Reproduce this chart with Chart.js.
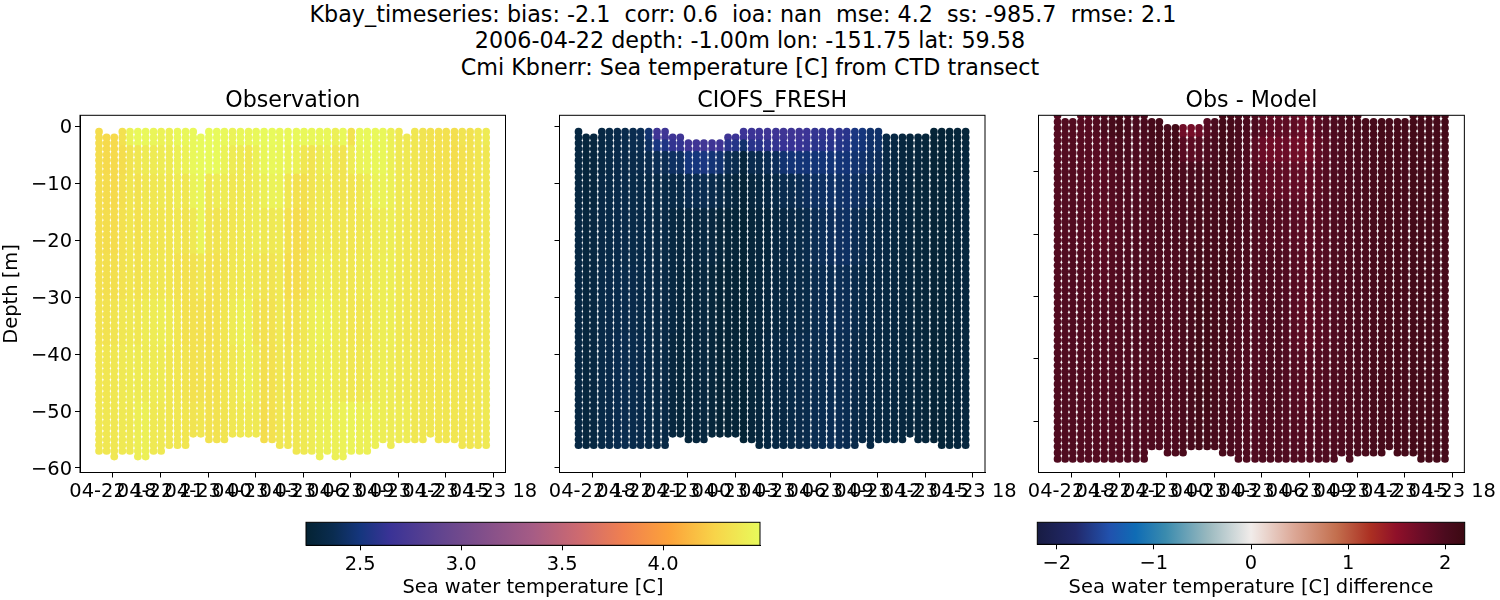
<!DOCTYPE html>
<html lang="en">
<head>
<meta charset="UTF-8" />
<title>Kbay_timeseries</title>
<script src="https://cdn.jsdelivr.net/npm/chart.js"></script>
<style>
  html, body { margin: 0; padding: 0; background: #fff; }
  body { width: 1500px; height: 600px; position: relative; overflow: hidden; font-family: 'DejaVu Sans', sans-serif; color: #000; }
  canvas { position: absolute; left: 0; top: 0; }
  #suptitle { position: absolute; left: 0; top: 0.5px; width: 1500px; text-align: center; font-size: 22.25px; line-height: 26.8px; white-space: pre; }
</style>
</head>
<body>
<div id="suptitle">Kbay_timeseries: bias: -2.1  corr: 0.6  ioa: nan  mse: 4.2  ss: -985.7  rmse: 2.1  
2006-04-22 depth: -1.00m lon: -151.75 lat: 59.58
Cmi Kbnerr: Sea temperature [C] from CTD transect</div>
<canvas id="obsChart" width="1500" height="600"></canvas>
<canvas id="modelChart" width="1500" height="600"></canvas>
<canvas id="diffChart" width="1500" height="600"></canvas>
<canvas id="tempBar" width="1500" height="600"></canvas>
<canvas id="diffBar" width="1500" height="600"></canvas>

<script>
  // profile times, hours after 04-22 18:00
  const castHours = [-0.88,-0.40,0.08,0.59,1.07,1.57,2.06,2.56,3.04,3.55,4.07,4.58,5.06,5.54,6.05,6.55,7.03,7.54,8.04,8.55,
    9.03,9.53,10.04,10.52,11.04,11.57,12.05,12.54,13.04,13.52,14.03,14.51,15.03,15.56,16.04,16.55,17.03,17.53,18.04,18.54,
    19.04,19.55,20.03,20.54,21.02,21.54,22.03,22.53,23.03,23.54];

  const xTickHours = [0,3,6,9,12,15,18,21,24];
  const xTickLabels = ['04-22 18','04-22 21','04-23 00','04-23 03','04-23 06','04-23 09','04-23 12','04-23 15','04-23 18'];
  const depthTicks = [0,-10,-20,-30,-40,-50,-60];
  const diffDepthTicks = [-10,-20,-30,-40,-50];
  const tempBarTicks = [2.5,3.0,3.5,4.0];
  const diffBarTicks = [-2,-1,0,1,2];

  // shallowest and deepest sample of each profile
  const obsTop = [-1,-2,-2,-1,-1,-1,-1,-1,-1,-1,-1,-1,-1,-2,-1,-1,-1,-1,-1,-1,-1,-1,-1,-1,-1,
    -1,-1,-1,-1,-1,-1,-1,-1,-1,-1,-1,-1,-1,-1,-2,-1,-1,-1,-1,-1,-1,-1,-1,-1,-1];
  const obsBottom = [-57,-57,-58,-57,-57,-58,-58,-57,-57,-56,-56,-56,-54,-54,-55,-55,-55,-54,-54,-54,-54,-55,-55,-56,-56,
    -57,-57,-57,-58,-57,-58,-58,-57,-57,-57,-56,-55,-56,-55,-55,-55,-55,-54,-55,-55,-55,-56,-56,-56,-56];
  const modelTop = [-1,-2,-2,-1,-1,-1,-1,-1,-1,-1,-1,-1,-2,-2,-3,-3,-3,-3,-3,-2,-2,-1,-1,-1,-1,
    -1,-1,-1,-1,-1,-1,-1,-1,-1,-1,-1,-1,-1,-1,-2,-2,-2,-2,-2,-2,-1,-1,-1,-1,-1];
  const modelBottom = [-56,-56,-56,-56,-56,-56,-56,-56,-56,-56,-56,-56,-54,-54,-55,-55,-55,-54,-54,-54,-54,-55,-55,-56,-56,
    -56,-56,-56,-56,-56,-56,-56,-56,-56,-56,-56,-55,-56,-55,-55,-55,-55,-54,-55,-55,-55,-56,-56,-56,-56];

  // each entry below holds the readings of one depth layer, one row per profile
  const obsLayers = [-3,-8,-14,-22,-30,-38,-48,-60];
  const obsTemp = [
    [4.31,4.31,4.31,4.31,4.32,4.34,4.36,4.37],[4.29,4.29,4.30,4.31,4.32,4.34,4.36,4.37],[4.29,4.29,4.29,4.30,4.32,4.35,4.37,4.37],
    [4.33,4.31,4.32,4.33,4.34,4.37,4.38,4.38],[4.44,4.35,4.36,4.36,4.36,4.38,4.39,4.38],[4.47,4.37,4.34,4.33,4.34,4.37,4.39,4.41],
    [4.47,4.39,4.37,4.36,4.36,4.40,4.39,4.42],[4.45,4.39,4.37,4.36,4.37,4.40,4.39,4.38],[4.43,4.40,4.38,4.36,4.37,4.41,4.39,4.38],
    [4.42,4.39,4.37,4.36,4.36,4.39,4.37,4.37],[4.46,4.42,4.39,4.37,4.34,4.36,4.36,4.37],[4.46,4.43,4.37,4.35,4.33,4.33,4.35,4.36],
    [4.47,4.47,4.44,4.38,4.34,4.33,4.33,4.35],[4.48,4.48,4.46,4.45,4.37,4.33,4.34,4.36],[4.48,4.48,4.37,4.35,4.33,4.32,4.33,4.34],
    [4.48,4.48,4.40,4.35,4.33,4.33,4.33,4.34],[4.47,4.44,4.40,4.37,4.35,4.36,4.36,4.35],[4.44,4.39,4.37,4.36,4.37,4.39,4.37,4.37],
    [4.46,4.39,4.38,4.38,4.38,4.42,4.40,4.38],[4.45,4.37,4.38,4.38,4.38,4.42,4.42,4.38],[4.47,4.42,4.40,4.40,4.37,4.34,4.38,4.38],
    [4.48,4.46,4.42,4.38,4.35,4.33,4.32,4.31],[4.48,4.47,4.44,4.38,4.35,4.34,4.33,4.33],[4.47,4.46,4.44,4.39,4.38,4.38,4.37,4.37],
    [4.46,4.44,4.37,4.33,4.31,4.34,4.35,4.37],[4.47,4.43,4.33,4.30,4.30,4.34,4.36,4.37],[4.47,4.37,4.32,4.30,4.32,4.37,4.38,4.38],
    [4.46,4.35,4.35,4.37,4.38,4.41,4.41,4.40],[4.46,4.39,4.38,4.38,4.40,4.43,4.41,4.42],[4.46,4.42,4.38,4.38,4.40,4.42,4.41,4.42],
    [4.42,4.37,4.37,4.37,4.38,4.40,4.40,4.42],[4.47,4.35,4.35,4.37,4.37,4.38,4.38,4.43],[4.34,4.40,4.35,4.36,4.37,4.36,4.37,4.44],
    [4.47,4.44,4.37,4.37,4.38,4.36,4.37,4.42],[4.47,4.45,4.40,4.38,4.38,4.37,4.38,4.42],[4.47,4.46,4.44,4.40,4.40,4.40,4.40,4.42],
    [4.46,4.46,4.44,4.40,4.41,4.41,4.41,4.41],[4.42,4.42,4.42,4.41,4.41,4.41,4.40,4.40],[4.38,4.38,4.38,4.38,4.38,4.38,4.38,4.40],
    [4.38,4.38,4.38,4.37,4.37,4.37,4.38,4.40],[4.37,4.36,4.36,4.36,4.36,4.36,4.37,4.37],[4.35,4.35,4.35,4.35,4.35,4.35,4.36,4.37],
    [4.34,4.34,4.35,4.35,4.35,4.36,4.36,4.37],[4.33,4.33,4.34,4.34,4.35,4.35,4.36,4.36],[4.33,4.33,4.33,4.33,4.34,4.34,4.36,4.36],
    [4.32,4.31,4.31,4.32,4.33,4.34,4.36,4.36],[4.35,4.33,4.34,4.34,4.35,4.36,4.36,4.36],[4.34,4.34,4.34,4.35,4.35,4.36,4.36,4.36],
    [4.37,4.36,4.36,4.36,4.36,4.37,4.37,4.37],[4.39,4.37,4.37,4.37,4.37,4.37,4.38,4.38]
  ];

  const modelLayers = [-2.5,-4.5,-8,-14,-24,-36,-48,-60];
  const modelTemp = [
    [2.30,2.30,2.30,2.30,2.31,2.31,2.31,2.31],[2.28,2.28,2.28,2.28,2.29,2.29,2.29,2.29],[2.29,2.29,2.29,2.29,2.30,2.30,2.30,2.30],
    [2.31,2.31,2.31,2.32,2.32,2.33,2.33,2.33],[2.33,2.33,2.33,2.33,2.33,2.34,2.34,2.34],[2.34,2.34,2.34,2.34,2.34,2.35,2.36,2.36],
    [2.35,2.35,2.34,2.34,2.34,2.35,2.36,2.36],[2.36,2.36,2.34,2.33,2.33,2.34,2.35,2.35],[2.38,2.36,2.35,2.33,2.33,2.33,2.34,2.34],
    [2.46,2.42,2.36,2.33,2.33,2.33,2.33,2.33],[2.68,2.52,2.38,2.33,2.32,2.32,2.32,2.32],[2.68,2.54,2.38,2.33,2.32,2.32,2.32,2.32],
    [2.68,2.62,2.42,2.33,2.30,2.30,2.29,2.29],[2.68,2.62,2.42,2.33,2.29,2.28,2.27,2.27],[2.72,2.68,2.50,2.36,2.29,2.27,2.27,2.27],
    [2.72,2.68,2.50,2.36,2.29,2.28,2.28,2.28],[2.72,2.70,2.52,2.37,2.30,2.29,2.29,2.29],[2.72,2.68,2.48,2.35,2.29,2.27,2.27,2.27],
    [2.72,2.68,2.46,2.33,2.27,2.25,2.25,2.25],[2.68,2.58,2.38,2.30,2.26,2.25,2.25,2.25],[2.66,2.56,2.36,2.29,2.26,2.25,2.26,2.26],
    [2.66,2.45,2.28,2.25,2.24,2.24,2.24,2.24],[2.66,2.58,2.36,2.29,2.27,2.27,2.27,2.27],[2.66,2.58,2.36,2.30,2.28,2.28,2.28,2.28],
    [2.67,2.60,2.38,2.31,2.28,2.29,2.30,2.30],[2.67,2.62,2.40,2.33,2.30,2.30,2.31,2.31],[2.68,2.64,2.46,2.36,2.31,2.30,2.31,2.31],
    [2.68,2.64,2.48,2.36,2.32,2.31,2.33,2.33],[2.68,2.64,2.48,2.38,2.33,2.32,2.34,2.34],[2.66,2.62,2.48,2.40,2.35,2.33,2.35,2.35],
    [2.62,2.58,2.48,2.42,2.38,2.36,2.36,2.37],[2.62,2.58,2.48,2.42,2.39,2.37,2.36,2.37],[2.62,2.58,2.48,2.43,2.40,2.37,2.37,2.38],
    [2.60,2.56,2.48,2.43,2.41,2.38,2.37,2.38],[2.58,2.54,2.48,2.44,2.42,2.38,2.37,2.37],[2.52,2.50,2.46,2.42,2.38,2.35,2.34,2.34],
    [2.50,2.48,2.45,2.40,2.36,2.33,2.32,2.32],[2.45,2.44,2.42,2.38,2.33,2.31,2.31,2.31],[2.44,2.43,2.40,2.36,2.32,2.31,2.30,2.30],
    [2.32,2.32,2.32,2.32,2.31,2.30,2.30,2.30],[2.31,2.31,2.31,2.30,2.30,2.30,2.30,2.30],[2.29,2.29,2.29,2.29,2.29,2.29,2.29,2.29],
    [2.28,2.28,2.28,2.28,2.28,2.28,2.28,2.28],[2.28,2.28,2.28,2.27,2.27,2.27,2.28,2.28],[2.27,2.27,2.27,2.27,2.27,2.27,2.27,2.27],
    [2.25,2.25,2.25,2.25,2.25,2.25,2.25,2.25],[2.25,2.25,2.25,2.26,2.26,2.26,2.26,2.26],[2.26,2.26,2.26,2.27,2.27,2.27,2.27,2.27],
    [2.27,2.27,2.27,2.28,2.28,2.28,2.28,2.28],[2.27,2.28,2.28,2.29,2.29,2.29,2.29,2.29]
  ];

  const diffLayers = [-4,-8,-14,-22,-30,-38,-48,-60];
  const diffTemp = [
    [1.93,1.93,1.94,1.94,1.95,1.95,1.96,1.96],[1.95,1.95,1.95,1.95,1.96,1.96,1.97,1.97],[1.94,1.94,1.94,1.95,1.96,1.96,1.96,1.96],
    [1.92,1.92,1.92,1.92,1.94,1.95,1.95,1.95],[1.92,1.92,1.90,1.90,1.92,1.94,1.95,1.95],[1.95,1.90,1.88,1.86,1.90,1.93,1.94,1.94],
    [2.00,1.93,1.90,1.88,1.90,1.95,1.94,1.94],[2.05,1.97,1.94,1.92,1.94,1.95,1.95,1.95],[2.10,2.02,1.97,1.95,1.96,1.97,1.96,1.95],
    [2.04,2.00,1.97,1.96,1.97,1.97,1.96,1.96],[2.00,1.98,1.96,1.97,1.98,1.98,1.97,1.96],[2.02,1.98,1.97,1.97,1.98,1.98,1.97,1.97],
    [2.06,2.04,2.02,1.98,1.98,1.98,1.97,1.97],[2.08,2.08,2.05,2.02,1.99,1.98,1.98,1.98],[2.04,2.05,2.02,2.00,1.98,1.98,1.98,1.98],
    [2.10,2.12,2.08,2.02,1.99,1.98,1.99,1.99],[1.72,1.90,2.00,2.02,2.02,2.02,2.02,2.02],[1.68,1.88,2.02,2.03,2.04,2.04,2.05,2.04],
    [1.74,1.92,2.04,2.06,2.10,2.12,2.12,2.10],[1.92,1.98,2.05,2.06,2.08,2.12,2.12,2.08],[2.00,2.02,2.05,2.05,2.06,2.06,2.05,2.04],
    [2.10,2.12,2.10,2.10,2.12,2.10,2.04,2.03],[2.06,2.05,2.05,2.06,2.06,2.02,2.00,2.00],[2.02,2.00,2.00,2.00,2.00,1.98,1.97,1.98],
    [2.00,1.97,1.98,2.00,2.00,1.97,1.96,1.97],[1.98,1.88,1.94,1.98,1.98,1.96,1.96,1.96],[1.88,1.76,1.84,1.94,1.97,1.96,1.96,1.97],
    [1.82,1.72,1.82,1.94,1.98,2.00,2.00,1.98],[1.84,1.74,1.84,1.94,1.98,2.00,2.00,1.98],[1.86,1.76,1.84,1.93,1.96,1.96,1.96,1.96],
    [1.84,1.72,1.82,1.90,1.92,1.90,1.93,1.95],[1.76,1.70,1.80,1.88,1.89,1.86,1.92,1.94],[1.78,1.72,1.82,1.88,1.88,1.86,1.92,1.95],
    [1.90,1.84,1.88,1.92,1.92,1.90,1.94,1.96],[1.96,1.92,1.94,1.95,1.95,1.93,1.96,1.97],[1.98,1.96,1.97,1.97,1.97,1.96,1.97,1.98],
    [2.00,1.98,1.98,1.98,1.98,1.98,1.98,1.98],[2.02,2.00,2.00,2.00,2.00,2.00,2.00,2.00],[2.04,2.02,2.01,2.01,2.01,2.01,2.01,2.00],
    [2.05,2.04,2.03,2.03,2.02,2.02,2.03,2.02],[2.06,2.05,2.04,2.04,2.04,2.04,2.05,2.04],[2.08,2.06,2.06,2.06,2.06,2.06,2.06,2.05],
    [2.05,2.05,2.05,2.05,2.05,2.05,2.05,2.05],[2.06,2.06,2.06,2.06,2.06,2.06,2.06,2.06],[2.07,2.07,2.07,2.07,2.07,2.07,2.07,2.07],
    [2.10,2.10,2.10,2.09,2.09,2.08,2.08,2.08],[2.08,2.08,2.08,2.08,2.08,2.08,2.08,2.08],[2.08,2.08,2.08,2.08,2.08,2.08,2.08,2.08],
    [2.07,2.07,2.07,2.07,2.07,2.07,2.07,2.07],[2.08,2.08,2.08,2.07,2.07,2.07,2.07,2.07]
  ];

  // cmocean thermal and balance
  const thermalStops = [[0,'#042333'],[.06,'#0a2c50'],[.12,'#15367e'],[.185,'#3a3396'],[.3,'#63458f'],[.4,'#85508a'],[.5,'#a65c85'],
    [.6,'#cd6a70'],[.7,'#f08050'],[.8,'#fca23a'],[.9,'#f8d449'],[1,'#e8fa5b']];
  const balanceStops = [[0,'#181c43'],[.09,'#22296b'],[.17,'#2152ae'],[.23,'#0f6cb5'],[.3,'#3a8bae'],[.4,'#9ab9bf'],[.5,'#f1ecea'],
    [.6,'#dca897'],[.7,'#c36f4e'],[.78,'#ab2f22'],[.84,'#8f1029'],[.9,'#6a0c27'],[.955,'#4b0b1e'],[1,'#3c0912']];

  const tempRange = [2.232, 4.48];
  const diffRange = [-2.2, 2.2];

  const tickFont = { family: "'DejaVu Sans', sans-serif", size: 19.44 };
  const titleFont = { family: "'DejaVu Sans', sans-serif", size: 22.2, weight: 'normal' };

  function hexRgb(h) {
    return [1, 3, 5].map(i => parseInt(h.slice(i, i + 2), 16));
  }

  function colourAt(stops, range, v) {
    const t = Math.min(1, Math.max(0, (v - range[0]) / (range[1] - range[0])));
    let i = 1;
    while (i < stops.length - 1 && stops[i][0] < t) i++;
    const a = hexRgb(stops[i - 1][1]), b = hexRgb(stops[i][1]);
    const f = (t - stops[i - 1][0]) / (stops[i][0] - stops[i - 1][0]);
    return `rgb(${a.map((c, k) => Math.round(c + (b[k] - c) * f)).join(',')})`;
  }

  // spread the layer readings over the 1 m samples of every profile
  function buildPoints(tops, bottoms, layers, table, stops, range) {
    const points = [], colours = [];
    castHours.forEach((h, c) => {
      for (let d = tops[c]; d >= bottoms[c]; d--) {
        const layer = layers.findIndex(edge => d >= edge);
        points.push({ x: h, y: d });
        colours.push(colourAt(stops, range, table[c][layer]));
      }
    });
    return { points, colours };
  }

  const framePlugin = {
    id: 'frame',
    beforeDraw(chart) {
      // canvas middle baseline sits a bit high next to the ticks
      if (chart.options.scales.y.display) {
        const items = chart.scales.y.getLabelItems();
        if (!chart.$shifted) items.forEach(it => { it.textOffset += 1.5; });
        chart.$shifted = true;
      }
    },
    afterDraw(chart) {
      const a = chart.chartArea, ctx = chart.ctx;
      ctx.save();
      ctx.strokeStyle = '#000';
      ctx.lineWidth = 1;
      ctx.strokeRect(a.left, a.top, a.right - a.left, a.bottom - a.top);
      ctx.restore();
    }
  };

  const gradientPlugin = {
    id: 'gradient',
    beforeDatasetsDraw(chart, args, opts) {
      const a = chart.chartArea, ctx = chart.ctx;
      const g = ctx.createLinearGradient(a.left, 0, a.right, 0);
      opts.stops.forEach(s => g.addColorStop(s[0], s[1]));
      ctx.fillStyle = g;
      ctx.fillRect(a.left, a.top, a.right - a.left, a.bottom - a.top);
    }
  };

  function tickGrid() {
    return { drawOnChartArea: false, drawTicks: true, tickLength: 5, tickWidth: 1, tickColor: '#000' };
  }

  function panel(id, title, box, yRange, yTicks, showY, data) {
    new Chart(document.getElementById(id), {
      type: 'scatter',
      data: { datasets: [{ data: data.points, pointBackgroundColor: data.colours, pointBorderWidth: 0, pointRadius: 3.85 }] },
      plugins: [framePlugin],
      options: {
        responsive: false, animation: false, devicePixelRatio: 1,
        layout: { padding: { left: 0, right: 1500 - box.right, top: box.top - 27.14, bottom: 0 } },
        plugins: {
          legend: { display: false }, tooltip: { enabled: false },
          title: { display: true, text: title, font: titleFont, color: '#000', fullSize: false, padding: { top: 0, bottom: 0.5 } }
        },
        scales: {
          x: {
            type: 'linear', min: -2.08, max: 24.76,
            afterBuildTicks: s => { s.ticks = xTickHours.map(value => ({ value })); },
            afterFit: s => { s.height = 600 - box.bottom; },
            grid: tickGrid(), border: { color: '#000', width: 1 },
            ticks: { font: tickFont, color: '#000', padding: 3, autoSkip: false, maxRotation: 0, minRotation: 0,
              callback: (v, i) => xTickLabels[i] }
          },
          y: {
            type: 'linear', min: yRange[0], max: yRange[1],
            afterBuildTicks: s => { s.ticks = yTicks.map(value => ({ value })); },
            afterFit: s => { s.width = box.left; },
            grid: tickGrid(), border: { color: '#000', width: 1 },
            title: { display: showY, text: 'Depth [m]', font: { family: tickFont.family, size: tickFont.size }, color: '#000', padding: 0 },
            ticks: { display: showY, font: tickFont, color: '#000', padding: 3,
              callback: v => String(v).replace('-', '\u2212') }
          }
        }
      }
    });
  }

  function colourBar(id, label, box, range, ticks, stops, fmt) {
    new Chart(document.getElementById(id), {
      type: 'scatter',
      data: { datasets: [] },
      plugins: [gradientPlugin, framePlugin],
      options: {
        responsive: false, animation: false, devicePixelRatio: 1,
        layout: { padding: { left: box.left, right: 1500 - box.right, top: box.top, bottom: 0 } },
        plugins: { legend: { display: false }, tooltip: { enabled: false }, gradient: { stops } },
        scales: {
          x: {
            type: 'linear', min: range[0], max: range[1],
            afterBuildTicks: s => { s.ticks = ticks.map(value => ({ value })); },
            afterFit: s => { s.height = 600 - box.bottom; },
            grid: tickGrid(), border: { color: '#000', width: 1 },
            title: { display: true, text: label, font: { family: tickFont.family, size: tickFont.size }, color: '#000', padding: 0 },
            ticks: { font: tickFont, color: '#000', padding: 3, autoSkip: false, maxRotation: 0, minRotation: 0, callback: fmt }
          },
          y: { display: false, min: 0, max: 1 }
        }
      }
    });
  }

  const obsBox = { left: 80, right: 505.5, top: 115.3, bottom: 472.5 };
  const modelBox = { left: 559.5, right: 985, top: 115.3, bottom: 472.5 };
  const diffBox = { left: 1038.5, right: 1465, top: 115.3, bottom: 472.5 };

  panel('obsChart', 'Observation', obsBox, [-60.79, 1.88], depthTicks, true,
    buildPoints(obsTop, obsBottom, obsLayers, obsTemp, thermalStops, tempRange));
  panel('modelChart', 'CIOFS_FRESH', modelBox, [-60.79, 1.88], depthTicks, false,
    buildPoints(modelTop, modelBottom, modelLayers, modelTemp, thermalStops, tempRange));
  panel('diffChart', 'Obs - Model', diffBox, [-58.18, -0.97], diffDepthTicks, false,
    buildPoints(modelTop, modelBottom, diffLayers, diffTemp, balanceStops, diffRange));

  colourBar('tempBar', 'Sea water temperature [C]', { left: 306, right: 760, top: 522.3, bottom: 545.3 }, tempRange, tempBarTicks,
    thermalStops, v => v.toFixed(1));
  colourBar('diffBar', 'Sea water temperature [C] difference', { left: 1037.3, right: 1464.7, top: 522.3, bottom: 544.3 }, diffRange, diffBarTicks,
    balanceStops, v => String(v).replace('-', '\u2212'));
</script>
</body>
</html>
